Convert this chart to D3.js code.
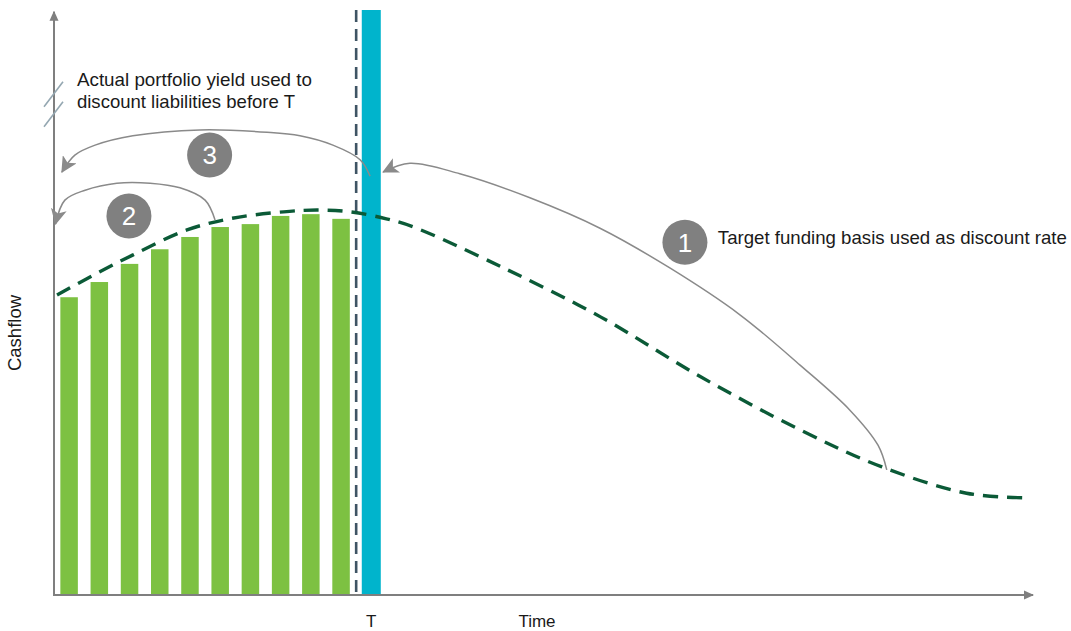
<!DOCTYPE html>
<html>
<head>
<meta charset="utf-8">
<script src="https://cdn.jsdelivr.net/npm/d3@7"></script>
<style>
  html, body { margin: 0; padding: 0; background: #ffffff; }
  svg { display: block; font-family: "Liberation Sans", Arial, sans-serif; }
</style>
</head>
<body>
<svg id="chart" width="1071" height="631"></svg>
<script>
// ---------------- DATA ----------------
// Asset cashflows (bars) up to time T
const barTimes  = [1, 2, 3, 4, 5, 6, 7, 8, 9, 10];
const barValues = [50.9, 53.5, 56.6, 59.1, 61.2, 62.9, 63.4, 64.8, 65.1, 64.3];

// Liability cashflow profile (dashed curve)
const curveTimes  = [0.6, 2.0, 3.1, 4.9, 6.4, 8.1, 9.2, 10.3, 11.5, 12.4, 15.3, 18.6, 21.9, 25.2, 27.9, 30.7, 32.7];
const curveValues = [51.3, 55.2, 58.1, 62.4, 64.4, 65.5, 65.8, 65.5, 64.3, 62.9, 56.1, 47.5, 37.3, 28.2, 21.9, 17.4, 16.6];

// Time T
const timeT = 11;
const tDashed = 10.5;

// Axis labels
const xAxisLabel = "Time";
const yAxisLabel = "Cashflow";
const tLabel = "T";

// Annotation texts
const noteActual = ["Actual portfolio yield used to", "discount liabilities before T"];
const noteTarget = "Target funding basis used as discount rate";
const badgeLabels = ["1", "2", "3"];

// ---------------- LAYOUT ----------------
const svg = d3.select("#chart");
const x = d3.scaleLinear().domain([0.5, 32.8]).range([54, 1030]);
const y = d3.scaleLinear().domain([0, 100]).range([595, 10]);

const axisColor = "#7f7f7f";
const arrowColor = "#8a8a8a";
const badgeColor = "#808080";

const defs = svg.append("defs");
defs.append("marker")
  .attr("id", "axisHead").attr("viewBox", "0 0 10 10")
  .attr("refX", 9).attr("refY", 5)
  .attr("markerUnits", "userSpaceOnUse")
  .attr("markerWidth", 10).attr("markerHeight", 10)
  .attr("orient", "auto")
  .append("path").attr("d", "M0,0.5 L10,5 L0,9.5 Z").attr("fill", axisColor);
defs.append("marker")
  .attr("id", "annHead").attr("viewBox", "0 0 16 16")
  .attr("refX", 15).attr("refY", 8)
  .attr("markerUnits", "userSpaceOnUse")
  .attr("markerWidth", 16).attr("markerHeight", 16)
  .attr("orient", "auto")
  .append("path").attr("d", "M0,0 L16,8 L0,16 L4,8 Z").attr("fill", arrowColor);

// ---------------- BARS ----------------
const barW = 17.5;
svg.append("g").selectAll("rect").data(barTimes).join("rect")
  .attr("x", (d) => x(d) - barW / 2)
  .attr("width", barW)
  .attr("y", (d, i) => y(barValues[i]))
  .attr("height", (d, i) => y(0) - y(barValues[i]))
  .attr("fill", "#7dc142");

// Vertical dashed line just before T
svg.append("line")
  .attr("x1", x(tDashed)).attr("x2", x(tDashed))
  .attr("y1", y(100)).attr("y2", y(0))
  .attr("stroke", "#3f5464").attr("stroke-width", 2.6)
  .attr("stroke-dasharray", "12,7");

// Cyan T bar
const tW = 19;
svg.append("rect")
  .attr("x", x(timeT) - tW / 2).attr("width", tW)
  .attr("y", y(100)).attr("height", y(0) - y(100))
  .attr("fill", "#00b4cc");

// ---------------- AXES ----------------
svg.append("line")
  .attr("x1", x(0.5)).attr("y1", y(0)).attr("x2", x(0.5)).attr("y2", y(99.7))
  .attr("stroke", axisColor).attr("stroke-width", 2)
  .attr("marker-end", "url(#axisHead)");
svg.append("line")
  .attr("x1", x(0.5) - 1).attr("y1", y(0)).attr("x2", x(32.9)).attr("y2", y(0))
  .attr("stroke", axisColor).attr("stroke-width", 2)
  .attr("marker-end", "url(#axisHead)");

// Axis break marks
const breakG = svg.append("g").attr("stroke", "#94a7b1").attr("stroke-width", 1.6);
[85.5, 82.1].forEach((v) => {
  breakG.append("line")
    .attr("x1", x(0.5) - 10).attr("y1", y(v) + 12)
    .attr("x2", x(0.5) + 9).attr("y2", y(v) - 13);
});

// ---------------- LIABILITY CURVE ----------------
const curveLine = d3.line()
  .x((d, i) => x(curveTimes[i]))
  .y((d, i) => y(curveValues[i]))
  .curve(d3.curveCatmullRom.alpha(0.5));
svg.append("path")
  .attr("d", curveLine(curveTimes))
  .attr("fill", "none")
  .attr("stroke", "#0b5a37").attr("stroke-width", 3.4)
  .attr("stroke-dasharray", "15,9");

// ---------------- ANNOTATION ARROWS ----------------
const annLine = d3.line().x((d) => x(d[0])).y((d) => y(d[1])).curve(d3.curveCatmullRom.alpha(0.5));
const arrow1 = [[28.06, 21.4], [27.77, 25.6], [26.84, 31.6], [25.19, 39.3], [23.2, 47.9], [20.88, 55.9], [18.57, 62.7], [16.25, 67.9], [13.93, 72.0], [12.28, 73.8], [11.39, 72.3]];
const arrow3 = [[10.96, 71.6], [10.63, 74.4], [9.73, 76.9], [8.64, 78.5], [7.55, 79.1], [5.33, 79.5], [3.11, 78.5], [1.86, 76.9], [1.19, 75.2], [0.76, 72.3]];
const arrow2 = [[5.83, 64.1], [5.5, 67.5], [4.67, 69.6], [3.68, 70.4], [2.58, 70.4], [1.53, 69.2], [0.86, 67.5], [0.55, 63.4]];
[arrow1, arrow3, arrow2].forEach((pts) => {
  svg.append("path")
    .attr("d", annLine(pts))
    .attr("fill", "none")
    .attr("stroke", arrowColor).attr("stroke-width", 1.5)
    .attr("marker-end", "url(#annHead)");
});

// ---------------- BADGES ----------------
const badgePos = [[21.38, 60.3], [2.98, 64.8], [5.65, 75.2]];
const badges = svg.append("g").selectAll("g").data(badgeLabels).join("g")
  .attr("transform", (d, i) => `translate(${x(badgePos[i][0])},${y(badgePos[i][1])})`);
badges.append("circle").attr("r", 22.5).attr("fill", badgeColor);
badges.append("text")
  .attr("text-anchor", "middle").attr("dy", "0.36em")
  .attr("fill", "#ffffff").attr("font-size", 26)
  .text((d) => d);

// ---------------- TEXTS ----------------
svg.append("text")
  .attr("x", x(1.26)).attr("y", y(87.0))
  .attr("font-size", 18.5).attr("fill", "#1a1a1a")
  .attr("textLength", 235).attr("lengthAdjust", "spacingAndGlyphs")
  .text(noteActual[0]);
svg.append("text")
  .attr("x", x(1.26)).attr("y", y(83.2))
  .attr("font-size", 18.5).attr("fill", "#1a1a1a")
  .attr("textLength", 218).attr("lengthAdjust", "spacingAndGlyphs")
  .text(noteActual[1]);
svg.append("text")
  .attr("x", x(22.47)).attr("y", y(60.0))
  .attr("font-size", 18.5).attr("fill", "#1a1a1a")
  .attr("textLength", 349).attr("lengthAdjust", "spacingAndGlyphs")
  .text(noteTarget);

svg.append("text")
  .attr("x", x(timeT)).attr("y", 627)
  .attr("text-anchor", "middle").attr("font-size", 17).attr("fill", "#1a1a1a")
  .text(tLabel);
svg.append("text")
  .attr("x", 537).attr("y", 627)
  .attr("text-anchor", "middle").attr("font-size", 17).attr("fill", "#1a1a1a")
  .text(xAxisLabel);
svg.append("text")
  .attr("transform", `translate(21,${333}) rotate(-90)`)
  .attr("text-anchor", "middle").attr("font-size", 18.5).attr("fill", "#1a1a1a")
  .text(yAxisLabel);
</script>
</body>
</html>
